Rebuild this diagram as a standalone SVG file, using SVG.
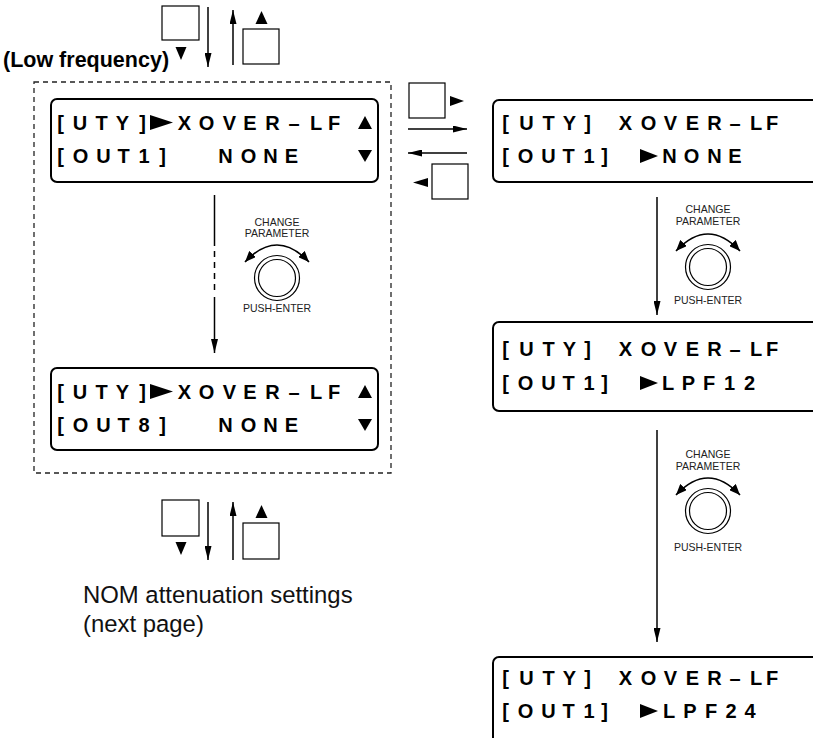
<svg xmlns="http://www.w3.org/2000/svg" width="813" height="738" viewBox="0 0 813 738">
<defs>
<style>
.lcd{fill:#fff;stroke:#000;stroke-width:2}
.lt{font-family:"Liberation Sans",Arial,sans-serif;font-weight:bold;font-size:20px;fill:#000;text-anchor:middle}
.sq{fill:#fff;stroke:#000;stroke-width:1.2}
.ln{stroke:#000;stroke-width:1.5;fill:none}
.kl{font-family:"Liberation Sans",Arial,sans-serif;font-size:10.5px;fill:#222;text-anchor:middle}
.cap{font-family:"Liberation Sans",Arial,sans-serif;font-size:23.9px;fill:#111}
.arc{fill:none;stroke:#000;stroke-width:1.6}
.kc{fill:#fff;stroke:#000;stroke-width:1.2}
</style>
<marker id="ah" markerUnits="userSpaceOnUse" markerWidth="14" markerHeight="7" refX="14" refY="3.5" orient="auto"><path d="M0,0L14,3.5L0,7z" fill="#000"/></marker>
<marker id="kh" markerUnits="userSpaceOnUse" markerWidth="12" markerHeight="9" refX="11" refY="4.5" orient="auto-start-reverse"><path d="M0,0L11,4.5L0,9z" fill="#000"/></marker>
</defs>
<rect width="813" height="738" fill="#fff"/>

<text x="3" y="67" font-family="Liberation Sans, Arial, sans-serif" font-weight="bold" font-size="21.5" fill="#000">(Low frequency)</text>

<g id="group-low" fill="none" stroke="#222" stroke-width="1.3" stroke-dasharray="5,4">
<rect x="34" y="82" width="357" height="391"/>
</g>

<g id="lcd-out1">
<rect class="lcd" x="51" y="99" width="327" height="83" rx="6"/>
<text class="lt" x="60.5 80 101.5 122.5 142.5" y="130">[UTY]</text>
<polygon points="150,115 173,122.5 150,130" fill="#000"/>
<text class="lt" x="184.5 206.5 229.5 250 272.5 294 316 334" y="130">XOVER–LF</text>
<polygon points="365,116 372,129 358,129" fill="#000"/>
<text class="lt" x="60.5 80.5 103.5 123.5 144 162.5" y="163">[OUT1]</text>
<text class="lt" x="225.5 248.5 270.5 291.5" y="163">NONE</text>
<polygon points="358,150 372,150 365,162" fill="#000"/>
</g>

<g id="lcd-out8">
<rect class="lcd" x="51" y="368" width="327" height="82" rx="6"/>
<text class="lt" x="60.5 80 101.5 122.5 142.5" y="399">[UTY]</text>
<polygon points="150,384 173,391.5 150,399" fill="#000"/>
<text class="lt" x="184.5 206.5 229.5 250 272.5 294 316 334" y="399">XOVER–LF</text>
<polygon points="365,385 372,398 358,398" fill="#000"/>
<text class="lt" x="60.5 80.5 103.5 123.5 144 162.5" y="432">[OUT8]</text>
<text class="lt" x="225.5 248.5 270.5 291.5" y="432">NONE</text>
<polygon points="358,419 372,419 365,431" fill="#000"/>
</g>

<g id="lcd-none">
<rect class="lcd" x="493" y="100" width="340" height="82" rx="6"/>
<text class="lt" x="505.5 526.5 548.5 569.5 587.5" y="130">[UTY]</text>
<text class="lt" x="625.5 648.5 670.5 692.5 714.5 735 756 772" y="130">XOVER–LF</text>
<text class="lt" x="505.5 525.5 548.5 568.5 589 604.5" y="163">[OUT1]</text>
<polygon points="640,149 658,156 640,163" fill="#000"/>
<text class="lt" x="669.5 691.5 714.5 735" y="163">NONE</text>
</g>

<g id="lcd-lpf12">
<rect class="lcd" x="493" y="322" width="340" height="89" rx="6"/>
<text class="lt" x="505.5 526.5 548.5 569.5 587.5" y="356">[UTY]</text>
<text class="lt" x="625.5 648.5 670.5 692.5 714.5 735 756 772" y="356">XOVER–LF</text>
<text class="lt" x="505.5 525.5 548.5 568.5 589 604.5" y="390">[OUT1]</text>
<polygon points="640,376 658,383 640,390" fill="#000"/>
<text class="lt" x="668 688.5 709 729.5 749.5" y="390">LPF12</text>
</g>

<g id="lcd-lpf24">
<rect class="lcd" x="493" y="657" width="340" height="92" rx="6"/>
<text class="lt" x="505.5 526.5 548.5 569.5 587.5" y="685">[UTY]</text>
<text class="lt" x="625.5 648.5 670.5 692.5 714.5 735 756 772" y="685">XOVER–LF</text>
<text class="lt" x="505.5 525.5 548.5 568.5 589 604.5" y="718">[OUT1]</text>
<polygon points="640,704 658,711 640,718" fill="#000"/>
<text class="lt" x="669 690 711 731 750" y="718">LPF24</text>
</g>

<g id="keys-top">
<rect class="sq" x="162" y="6" width="37" height="34"/>
<polygon points="175.5,47 186.5,47 181,60" fill="#000"/>
<rect class="sq" x="243" y="29" width="36" height="35"/>
<polygon points="261.5,11 267.5,24 255.5,24" fill="#000"/>
</g>

<g id="keys-side">
<rect class="sq" x="409" y="83" width="36" height="35"/>
<polygon points="450,96 464,101 450,106" fill="#000"/>
<rect class="sq" x="432" y="164" width="36" height="35"/>
<polygon points="413,182.5 428,178 428,187" fill="#000"/>
</g>

<g id="keys-bottom">
<rect class="sq" x="162" y="500" width="37" height="36"/>
<polygon points="175.5,542 186.5,542 181,555" fill="#000"/>
<rect class="sq" x="243" y="523" width="36" height="36"/>
<polygon points="261.5,505 267.5,518 255.5,518" fill="#000"/>
</g>

<g id="knob-1" transform="translate(277,278)">
<text class="kl" y="-52">CHANGE</text>
<text class="kl" y="-41">PARAMETER</text>
<path class="arc" d="M-32,-16Q0,-50 32,-16" marker-start="url(#kh)" marker-end="url(#kh)"/>
<circle class="kc" r="22.5"/>
<circle class="kc" r="18.5"/>
<text class="kl" y="34">PUSH-ENTER</text>
</g>

<g id="knob-2" transform="translate(708,267)">
<text class="kl" y="-54">CHANGE</text>
<text class="kl" y="-42">PARAMETER</text>
<path class="arc" d="M-32,-16Q0,-50 32,-16" marker-start="url(#kh)" marker-end="url(#kh)"/>
<circle class="kc" r="22.5"/>
<circle class="kc" r="18.5"/>
<text class="kl" y="37">PUSH-ENTER</text>
</g>

<g id="knob-3" transform="translate(708,511)">
<text class="kl" y="-53">CHANGE</text>
<text class="kl" y="-41">PARAMETER</text>
<path class="arc" d="M-32,-16Q0,-50 32,-16" marker-start="url(#kh)" marker-end="url(#kh)"/>
<circle class="kc" r="22.5"/>
<circle class="kc" r="18.5"/>
<text class="kl" y="40">PUSH-ENTER</text>
</g>

<g id="caption">
<text class="cap" x="83" y="603">NOM attenuation settings</text>
<text class="cap" x="83" y="632">(next page)</text>
</g>

<g id="connectors">
<line class="ln" x1="208" y1="7" x2="208" y2="67" marker-end="url(#ah)"/>
<line class="ln" x1="233" y1="65" x2="233" y2="10" marker-end="url(#ah)"/>
<line class="ln" x1="408" y1="129" x2="467" y2="129" marker-end="url(#ah)"/>
<line class="ln" x1="467" y1="153" x2="408" y2="153" marker-end="url(#ah)"/>
<line class="ln" x1="214.5" y1="195" x2="214.5" y2="246"/>
<line class="ln" x1="214.5" y1="251" x2="214.5" y2="292" stroke-dasharray="6,5"/>
<line class="ln" x1="214.5" y1="297" x2="214.5" y2="353" marker-end="url(#ah)"/>
<line class="ln" x1="657" y1="197" x2="657" y2="315" marker-end="url(#ah)"/>
<line class="ln" x1="657" y1="430" x2="657" y2="642" marker-end="url(#ah)"/>
<line class="ln" x1="208" y1="502" x2="208" y2="560" marker-end="url(#ah)"/>
<line class="ln" x1="233" y1="560" x2="233" y2="502" marker-end="url(#ah)"/>
</g>
</svg>
